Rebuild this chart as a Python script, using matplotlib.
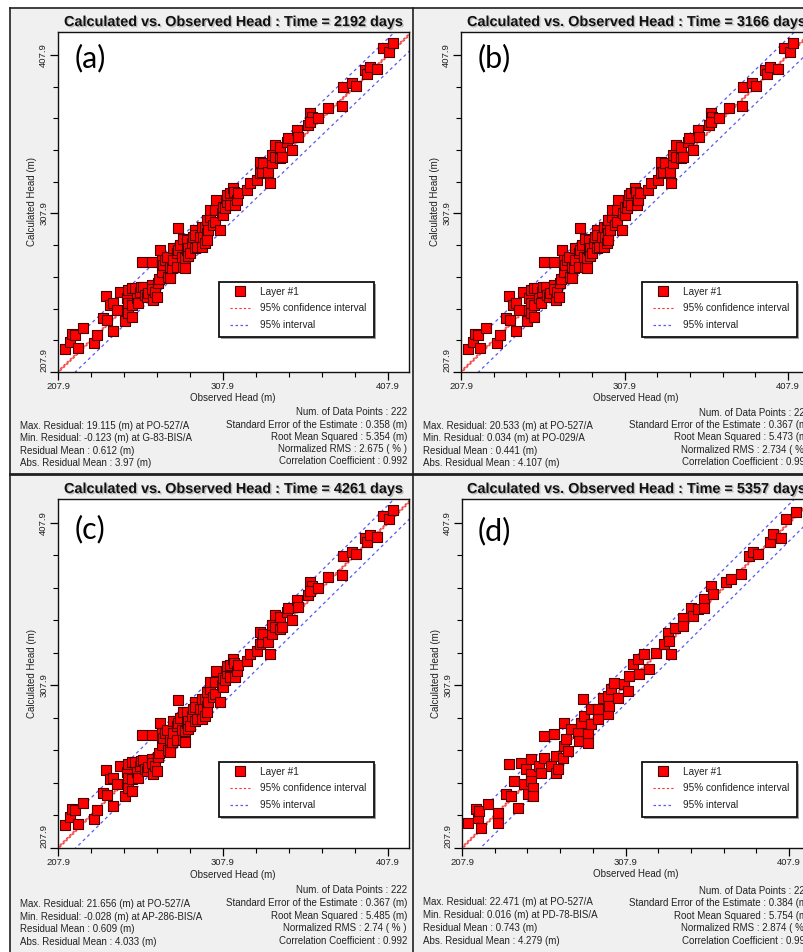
import matplotlib
matplotlib.use('Agg')
import matplotlib.pyplot as plt
import matplotlib.patheffects as pe
from matplotlib.patches import Rectangle
from matplotlib.lines import Line2D
from matplotlib.ticker import FixedLocator

# ---------------- data ----------------
times = [2192, 3166, 4261, 5357]
panel_tags = ["(a)", "(b)", "(c)", "(d)"]

obs_a = [212.1, 215.2, 216.2, 218.2, 219.8, 222.9, 229.7, 231.7, 235.4, 237.8, 237.0, 239.4, 241.4, 241.4,
         243.5, 245.5, 248.5, 249.5, 249.5, 250.5, 250.5, 250.5, 252.6, 252.6, 252.6, 254.6, 255.6, 256.6,
         257.6, 258.2, 258.6, 259.6, 260.6, 261.7, 262.6, 264.7, 264.7, 264.7, 265.7, 266.7, 267.7, 268.7,
         269.1, 269.7, 270.7, 270.7, 271.7, 272.7, 273.8, 274.8, 275.8, 275.8, 275.8, 276.8, 277.8, 277.8,
         279.8, 279.8, 280.8, 280.8, 281.8, 282.9, 283.8, 283.8, 284.9, 284.9, 285.9, 285.9, 286.9, 286.9,
         287.9, 288.9, 289.9, 290.9, 290.9, 291.0, 292.0, 294.0, 295.0, 295.0, 296.0, 297.0, 297.0, 298.0,
         298.0, 298.0, 299.0, 300.0, 300.0, 302.0, 303.1, 303.1, 303.7, 306.1, 307.1, 308.1, 308.1, 309.1,
         310.1, 310.5, 312.1, 312.1, 314.1, 314.6, 315.2, 316.2, 317.2, 322.2, 324.3, 328.3, 330.3, 330.3,
         331.3, 332.3, 335.4, 336.4, 337.4, 337.4, 339.4, 339.4, 342.4, 342.4, 343.5, 346.5, 347.5, 349.5,
         352.6, 353.5, 359.6, 360.6, 361.6, 360.6, 365.7, 371.7, 379.8, 380.4, 385.9, 388.5, 394.0, 395.0,
         397.0, 401.4, 405.1, 408.7, 411.1]
calc_a = [222.2, 227.0, 231.7, 231.2, 222.8, 235.5, 226.0, 231.2, 241.8, 240.7, 256.0, 250.2, 251.2, 233.8,
          247.0, 258.6, 240.1, 247.0, 254.4, 244.9, 251.2, 259.6, 242.8, 260.7, 250.2, 260.7, 254.4, 251.2,
          258.6, 261.3, 277.1, 261.7, 256.5, 255.4, 257.5, 262.8, 277.5, 260.1, 253.3, 258.6, 255.4, 263.9,
          266.4, 284.9, 271.2, 278.6, 275.4, 278.6, 280.7, 268.0, 270.2, 267.0, 274.3, 273.3, 278.6, 285.9,
          282.8, 274.3, 298.6, 284.9, 288.0, 280.3, 274.3, 291.6, 279.6, 273.3, 291.2, 284.9, 286.0, 281.1,
          282.8, 289.1, 293.3, 297.5, 294.3, 285.9, 287.0, 293.3, 299.6, 287.0, 293.3, 289.1, 299.6, 303.8,
          295.4, 291.2, 297.5, 305.9, 310.1, 300.6, 310.1, 302.7, 316.4, 297.5, 308.0, 307.0, 312.2, 311.1,
          315.3, 319.6, 320.6, 313.3, 323.8, 321.6, 313.3, 316.4, 320.6, 322.7, 326.9, 329.0, 333.2, 340.6,
          334.3, 339.5, 334.3, 326.9, 339.5, 344.8, 343.7, 351.1, 350.1, 342.7, 343.7, 353.2, 355.3, 348.0,
          360.6, 356.3, 363.7, 371.1, 369.0, 365.8, 368.0, 374.3, 375.7, 387.5, 390.0, 388.5, 398.4, 395.9,
          400.5, 398.9, 412.1, 410.0, 415.7]

obs_d = [211.8, 216.5, 217.5, 218.5, 219.5, 223.6, 230.1, 230.1, 234.8, 237.9, 236.8, 239.9, 241.9, 244.0,
         246.0, 247.0, 248.1, 250.1, 250.1, 250.1, 251.1, 251.1, 255.2, 256.2, 258.2, 258.2, 262.3, 264.4,
         265.4, 265.4, 266.4, 269.5, 270.5, 270.5, 271.5, 272.5, 274.6, 278.7, 279.6, 280.7, 281.7, 282.7,
         284.8, 284.8, 286.8, 286.8, 290.9, 290.9, 293.9, 297.0, 297.0, 298.0, 299.0, 301.0, 303.1, 307.2,
         309.2, 310.2, 312.3, 315.4, 316.3, 319.4, 322.5, 326.6, 331.6, 333.7, 334.7, 335.7, 337.8, 342.9,
         342.9, 348.0, 349.0, 352.1, 356.1, 356.1, 360.2, 361.2, 369.4, 372.4, 378.5, 383.6, 385.7, 388.8,
         395.9, 397.9, 402.6, 406.1, 412.2]
calc_d = [223.5, 231.7, 226.5, 230.6, 220.0, 234.8, 229.6, 223.5, 240.9, 239.9, 259.3, 249.1, 232.3, 260.3,
          247.1, 256.3, 240.9, 262.4, 253.2, 249.1, 245.0, 239.9, 258.3, 254.2, 263.4, 276.7, 258.3, 277.8,
          264.4, 254.2, 256.3, 263.4, 270.6, 284.5, 274.7, 267.5, 280.9, 278.8, 273.7, 284.9, 299.7, 289.0,
          277.8, 272.6, 293.2, 283.9, 293.2, 287.0, 300.3, 301.3, 290.1, 295.2, 305.5, 309.5, 300.3, 308.5,
          304.4, 313.6, 320.8, 323.9, 314.7, 327.0, 318.1, 327.9, 333.1, 340.2, 335.1, 327.0, 343.3, 349.5,
          344.3, 355.6, 350.5, 354.6, 360.8, 355.6, 368.9, 363.8, 371.4, 373.0, 376.1, 387.4, 389.8, 388.4,
          395.7, 400.7, 398.6, 410.3, 414.4]

obs_all = [obs_a, obs_a, obs_a, obs_d]
calc_all = [calc_a, calc_a, calc_a, calc_d]

ci_half = [0.70, 0.72, 0.72, 0.75]       # 95% confidence interval half-width
pi_half = [10.5, 10.7, 10.75, 11.3]      # 95% interval half-width

stats_left = [
    ["Max. Residual: 19.115 (m) at PO-527/A", "Min. Residual: -0.123 (m) at G-83-BIS/A",
     "Residual Mean : 0.612 (m)", "Abs. Residual Mean : 3.97 (m)"],
    ["Max. Residual: 20.533 (m) at PO-527/A", "Min. Residual: 0.034 (m) at PO-029/A",
     "Residual Mean : 0.441 (m)", "Abs. Residual Mean : 4.107 (m)"],
    ["Max. Residual: 21.656 (m) at PO-527/A", "Min. Residual: -0.028 (m) at AP-286-BIS/A",
     "Residual Mean : 0.609 (m)", "Abs. Residual Mean : 4.033 (m)"],
    ["Max. Residual: 22.471 (m) at PO-527/A", "Min. Residual: 0.016 (m) at PD-78-BIS/A",
     "Residual Mean : 0.743 (m)", "Abs. Residual Mean : 4.279 (m)"],
]
stats_right = [
    ["Num. of Data Points : 222", "Standard Error of the Estimate : 0.358 (m)",
     "Root Mean Squared : 5.354 (m)", "Normalized RMS : 2.675 ( % )", "Correlation Coefficient : 0.992"],
    ["Num. of Data Points : 222", "Standard Error of the Estimate : 0.367 (m)",
     "Root Mean Squared : 5.473 (m)", "Normalized RMS : 2.734 ( % )", "Correlation Coefficient : 0.992"],
    ["Num. of Data Points : 222", "Standard Error of the Estimate : 0.367 (m)",
     "Root Mean Squared : 5.485 (m)", "Normalized RMS : 2.74 ( % )", "Correlation Coefficient : 0.992"],
    ["Num. of Data Points : 222", "Standard Error of the Estimate : 0.384 (m)",
     "Root Mean Squared : 5.754 (m)", "Normalized RMS : 2.874 ( % )", "Correlation Coefficient : 0.992"],
]
major_ticks = [207.9, 307.9, 407.9]
tick_labels = ["207.9", "307.9", "407.9"]
minor_ticks = [227.9, 247.9, 267.9, 287.9, 327.9, 347.9, 367.9, 387.9]
lim_lo, x_hi, y_hi = 207.9, 420.6, 422.4

# ---------------- layout ----------------
W, H = 804, 952
fig = plt.figure(figsize=(W / 100, H / 100), dpi=100)
fig.patch.set_facecolor('white')
FONT = 'Liberation Sans'
TXT = '#222222'


def fx(px):
    return px / W


def fy(py):
    return 1 - py / H


fig.patches.append(Rectangle((fx(10), fy(952)), fx(804) - fx(10), fy(8) - fy(952),
                             transform=fig.transFigure, facecolor='#f0f0f0', edgecolor='none', zorder=-5))
for (x0, y0, x1, y1, lw) in [(10, 8, 10, 952, 1.2), (413, 8, 413, 952, 1.2),
                             (10, 8, 804, 8, 1.2), (10, 474, 804, 474, 2.0)]:
    fig.add_artist(Line2D([fx(x0), fx(x1)], [fy(y0), fy(y1)], transform=fig.transFigure,
                          color='#202020', lw=lw, zorder=1))

geo = [
    dict(ax=(58, 32, 409, 372), title=(64, 22), tag=(75, 58), leg=(219, 282),
         xl=(233, 398), sl=(20, [426, 438, 451, 463]), sr=(407, [412, 425, 437, 449, 461])),
    dict(ax=(461, 32, 809, 372), title=(467, 22), tag=(478, 58), leg=(642, 282),
         xl=(636, 398), sl=(423, [426, 438, 451, 463]), sr=(810, [413, 425, 437, 450, 462])),
    dict(ax=(58, 499, 409, 848), title=(64, 489), tag=(75, 529), leg=(219, 762),
         xl=(233, 875), sl=(20, [904, 917, 929, 942]), sr=(407, [890, 903, 916, 928, 941])),
    dict(ax=(462, 499, 810, 848), title=(467, 489), tag=(478, 531), leg=(642, 762),
         xl=(636, 874), sl=(423, [902, 915, 928, 941]), sr=(810, [891, 903, 916, 928, 941])),
]

title_fx = [pe.withSimplePatchShadow(offset=(1, -1), shadow_rgbFace='#888888', alpha=0.5)]

for i in range(4):
    g = geo[i]
    l, t, r, b = g['ax']
    ax = fig.add_axes([fx(l), fy(b), fx(r) - fx(l), fy(t) - fy(b)])
    ax.set_zorder(2)
    ax.set_facecolor('white')
    ax.set_xlim(lim_lo, x_hi)
    ax.set_ylim(lim_lo, y_hi)
    obs, calc = obs_all[i], calc_all[i]

    xs = [lim_lo - 20, y_hi + 20]
    ax.plot(xs, xs, color='#f07878', lw=1.0, zorder=2)
    for sgn in (-1, 1):
        ax.plot(xs, [v + sgn * ci_half[i] for v in xs], color='#ff3030', lw=0.8,
                dashes=(2, 2), zorder=2)
        ax.plot(xs, [v + sgn * pi_half[i] for v in xs], color='#5a5af0', lw=0.9,
                dashes=(2.5, 2.5), zorder=2)
    ax.scatter(obs, calc, marker='s', s=44, c='#ff0000', edgecolors='#4a0000',
               linewidths=0.8, zorder=3)

    ax.xaxis.set_major_locator(FixedLocator(major_ticks))
    ax.yaxis.set_major_locator(FixedLocator(major_ticks))
    ax.xaxis.set_minor_locator(FixedLocator(minor_ticks))
    ax.yaxis.set_minor_locator(FixedLocator(minor_ticks))
    ax.set_xticklabels(tick_labels, fontsize=6.8, family=FONT, color=TXT)
    ylabs = ax.set_yticklabels(tick_labels, fontsize=6.8, family=FONT, color=TXT,
                               rotation=90, va='center')
    ylabs[0].set_va('bottom')
    ax.tick_params(which='major', length=5.5, width=0.9, pad=1.5, direction='out')
    ax.tick_params(which='minor', length=3.5, width=0.8, direction='out')
    for s in ax.spines.values():
        s.set_color('#111111')
        s.set_linewidth(1.0)

    ax.set_ylabel("Calculated Head (m)", fontsize=7, family=FONT, color=TXT)
    ax.yaxis.set_label_coords(-21.0 / (r - l), 0.5)

    fig.text(fx(g['title'][0]), fy(g['title'][1]),
             "Calculated vs. Observed Head : Time = %d days" % times[i],
             fontsize=10.4, fontweight='bold', family=FONT, ha='left', va='center', color='#111111',
             path_effects=title_fx)
    fig.text(fx(g['tag'][0]), fy(g['tag'][1]), panel_tags[i], fontsize=22, family='Lato',
             ha='left', va='center', color='black', zorder=10)
    fig.text(fx(g['xl'][0]), fy(g['xl'][1]), "Observed Head (m)", fontsize=7, family=FONT,
             ha='center', va='center', color=TXT)
    for txt, yy in zip(stats_left[i], g['sl'][1]):
        fig.text(fx(g['sl'][0]), fy(yy), txt, fontsize=7, family=FONT, ha='left',
                 va='center', color=TXT)
    for txt, yy in zip(stats_right[i], g['sr'][1]):
        fig.text(fx(g['sr'][0]), fy(yy), txt, fontsize=7, family=FONT, ha='right',
                 va='center', color=TXT)

    # legend box
    lx, ly = g['leg']
    fig.patches.append(Rectangle((fx(lx + 2), fy(ly + 57)), fx(155), fy(0) - fy(55),
                                 transform=fig.transFigure, facecolor='#a0a0a0',
                                 edgecolor='none', zorder=5))
    fig.patches.append(Rectangle((fx(lx), fy(ly + 55)), fx(155), fy(0) - fy(55),
                                 transform=fig.transFigure, facecolor='white',
                                 edgecolor='#111111', lw=1.3, zorder=6))
    fig.add_artist(Line2D([fx(lx + 21)], [fy(ly + 9)], transform=fig.transFigure, marker='s',
                          markersize=6.5, markerfacecolor='#ff0000', markeredgecolor='#4a0000',
                          markeredgewidth=0.8, zorder=7))
    fig.add_artist(Line2D([fx(lx + 11), fx(lx + 31)], [fy(ly + 26)] * 2, transform=fig.transFigure,
                          color='#ff3030', lw=0.8, dashes=(2, 2), zorder=7))
    fig.add_artist(Line2D([fx(lx + 11), fx(lx + 31)], [fy(ly + 43)] * 2, transform=fig.transFigure,
                          color='#5a5af0', lw=0.9, dashes=(2, 2), zorder=7))
    for txt, dy in [("Layer #1", 10), ("95% confidence interval", 26), ("95% interval", 43)]:
        fig.text(fx(lx + 41), fy(ly + dy), txt, fontsize=7.2, family=FONT, ha='left',
                 va='center', color=TXT, zorder=7)

fig.savefig('out.png', dpi=100, facecolor=fig.get_facecolor())
